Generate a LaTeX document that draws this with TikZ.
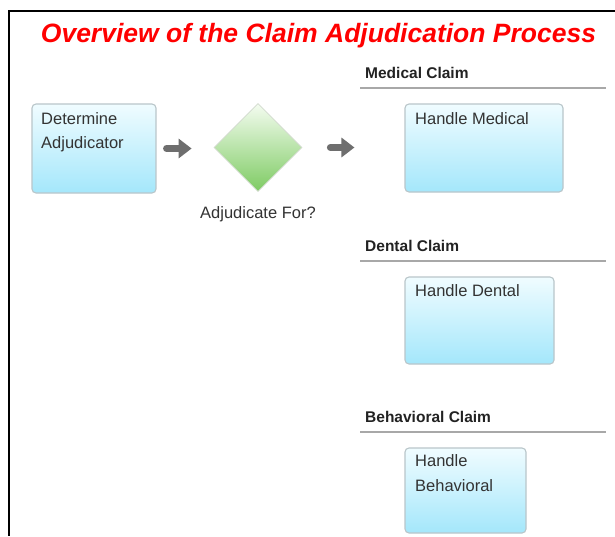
\documentclass[tikz,border=0pt]{standalone}
\usepackage{fontspec}
\setmainfont{Liberation Sans}
\usetikzlibrary{shapes.geometric,arrows.meta}
\definecolor{titlered}{HTML}{FF0000}
\definecolor{boxtop}{HTML}{F0FCFF}
\definecolor{boxbottom}{HTML}{A4E7FB}
\definecolor{boxline}{HTML}{B9C6CA}
\definecolor{dectop}{HTML}{F4FCF0}
\definecolor{decbottom}{HTML}{7ECB63}
\definecolor{decline}{HTML}{D2DACE}
\definecolor{arrowgray}{HTML}{6E6E6E}
\definecolor{bodytext}{HTML}{333333}
\definecolor{headtext}{HTML}{222222}
\definecolor{laneline}{HTML}{A8A8A8}
\tikzset{
  procbox/.style={rectangle, rounded corners=4pt, draw=boxline, line width=1.1pt,
    top color=boxtop, bottom color=boxbottom, inner sep=0pt},
  procbox text/.style={anchor=north west, inner sep=0pt, align=left, text=bodytext,
    font=\fontsize{16.5pt}{24pt}\selectfont},
  decision/.style={diamond, aspect=1, draw=decline, line width=0.8pt,
    top color=dectop, bottom color=decbottom, inner sep=0pt,
    minimum width=88pt, minimum height=88pt},
  caption/.style={anchor=base, inner sep=0pt, text=bodytext,
    font=\fontsize{16.5pt}{20pt}\selectfont},
  lanehead/.style={anchor=base west, inner sep=0pt, text=headtext,
    font=\fontsize{15.5pt}{19pt}\selectfont\bfseries},
  lanerule/.style={draw=laneline, line width=1.2pt},
  flowarrow/.style={draw=arrowgray, line width=7pt, line cap=round,
    -{Triangle[length=13pt,width=19pt]}},
}
\begin{document}
\begin{tikzpicture}[x=1pt,y=-1pt]
  \useasboundingbox (0,0) rectangle (615,536);
  \fill[white] (0,0) rectangle (615,536);

  % page frame
  \draw[line width=1.5pt] (615,11) -- (9,11) -- (9,536);

  % heading
  \node[anchor=base, inner sep=0pt, text=titlered,
        font=\fontsize{26.5pt}{30pt}\selectfont\bfseries\itshape]
        (title) at (318.5,42) {Overview of the Claim Adjudication Process};

  % first step and decision
  \node[procbox, minimum width=124pt, minimum height=89pt] (det) at (94,148.5) {};
  \node[procbox text] (dettext) at (41,112) {Determine\\Adjudicator};

  \node[decision] (dec) at (258,147.5) {};
  \node[caption] (declabel) at (258,218) {Adjudicate For?};

  % lanes
  \node[lanehead] (medhead) at (365,78) {Medical Claim};
  \draw[lanerule] (360,88) -- (606,88);
  \node[procbox, minimum width=158pt, minimum height=88pt] (med) at (484,148) {};
  \node[procbox text] (medtext) at (415,112) {Handle Medical};

  \node[lanehead] (denhead) at (365,251) {Dental Claim};
  \draw[lanerule] (360,261) -- (606,261);
  \node[procbox, minimum width=149pt, minimum height=87pt] (den) at (479.5,320.5) {};
  \node[procbox text] (dentext) at (415,284) {Handle Dental};

  \node[lanehead] (behhead) at (365,422) {Behavioral Claim};
  \draw[lanerule] (360,432) -- (606,432);
  \node[procbox, minimum width=121pt, minimum height=85pt] (beh) at (465.5,490.5) {};
  \node[procbox text, font=\fontsize{16.5pt}{25pt}\selectfont] (behtext) at (415,454) {Handle\\Behavioral};

  % flow
  \draw[flowarrow, shorten <=10pt, shorten >=22pt] (det.east) -- (det.east -| dec.west);
  \draw[flowarrow, shorten <=28pt, shorten >=50pt] (dec.east) -- (dec.east -| med.west);
\end{tikzpicture}
\end{document}
